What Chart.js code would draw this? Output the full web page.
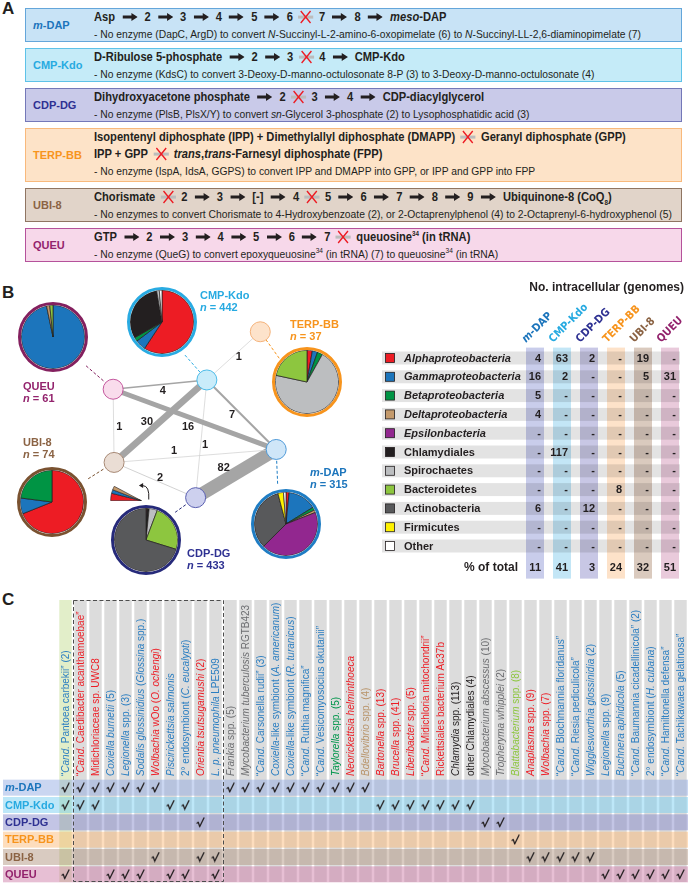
<!DOCTYPE html>
<html>
<head>
<meta charset="utf-8">
<title>Incomplete pathways in intracellular bacteria</title>
<script src="https://cdn.jsdelivr.net/npm/chart.js@4.4.1/dist/chart.umd.min.js"></script>
<style>
  html, body { margin: 0; padding: 0; background: #fff; }
  #fig { position: relative; width: 694px; height: 889px; overflow: hidden; color: #231f20;
         font-family: "Liberation Sans", Arial, sans-serif; }
  .letter { position: absolute; left: 2px; font: bold 17px/17px "Liberation Sans", Arial, sans-serif; }
  .box { position: absolute; left: 25px; width: 657px; box-sizing: border-box; border: 1.5px solid; }
  .box .name { position: absolute; left: 7px; top: 50%; transform: translateY(-50%);
               font: bold 11px/12px "Liberation Sans", Arial, sans-serif; white-space: nowrap; }
  .box .ln { position: absolute; left: 68px; white-space: nowrap; transform-origin: 0 50%; }
  .box .big { font: bold 12.5px/14px "Liberation Sans", Arial, sans-serif; }
  .box .small { font: 11px/14px "Liberation Sans", Arial, sans-serif; }
  .box sub, .box sup { font-size: 7px; line-height: 0; }
  svg.ar { vertical-align: 0px; margin: 0 8px; }
  svg.x { vertical-align: -3px; margin: 0 5px; }
  .chart { position: absolute; }
  .pie { position: absolute; width: 64px; height: 64px; border: 3px solid; border-radius: 50%; overflow: hidden; }
  .pie canvas { position: absolute; left: 0; top: 0; }
  .tag { position: absolute; font: bold 11px/12px "Liberation Sans", Arial, sans-serif; white-space: nowrap; }
</style>
</head>
<body>
<div id="fig">
  <div class="letter" style="top:0px">A</div>
  <div class="letter" style="top:284px">B</div>
  <canvas id="net" class="chart" style="left:0;top:280px" width="350" height="300"></canvas>
  <canvas id="tbl" class="chart" style="left:345px;top:280px" width="349" height="300"></canvas>
  <div class="letter" style="top:591px">C</div>
  <canvas id="mat" class="chart" style="left:0;top:580px" width="694" height="309"></canvas>
</div>
<script>
// ---------------- data ----------------
const PATHWAYS = ["m-DAP", "CMP-Kdo", "CDP-DG", "TERP-BB", "UBI-8", "QUEU"];
const GENOMES_N = [315, 442, 433, 37, 74, 61];

const TAXA = ["Alphaproteobacteria", "Gammaproteobacteria", "Betaproteobacteria", "Deltaproteobacteria",
  "Epsilonbacteria", "Chlamydiales", "Spirochaetes", "Bacteroidetes", "Actinobacteria", "Firmicutes", "Other"];

// genomes with the incomplete pathway, by taxon (pie slices)
const PIE_MDAP = [5, 46, 5, 4, 137, 0, 0, 0, 105, 9, 4];
const PIE_CMPKDO = [262, 24, 9, 0, 0, 135, 6, 0, 0, 0, 6];
const PIE_CDPDG = [2, 1, 1, 0, 0, 3, 18, 104, 304, 0, 0];
const PIE_TERPBB = [1, 1, 1, 0, 0, 0, 26, 8, 0, 0, 0];
const PIE_UBI8 = [51, 6, 17, 0, 0, 0, 0, 0, 0, 0, 0];
const PIE_QUEU = [0, 59, 0, 1, 0, 0, 0, 1, 0, 0, 0];
// the three smallest CDP-DG slices, blown up
const INSET_CDPDG = [2, 1, 1];

// intracellular genomes (table), null = "-"
const INTRA_MDAP = [4, 16, 5, 4, null, null, null, null, 6, null, null];
const INTRA_CMPKDO = [63, 2, null, null, null, 117, null, null, null, null, null];
const INTRA_CDPDG = [2, null, null, null, null, null, null, null, 12, null, null];
const INTRA_TERPBB = [null, null, null, null, null, null, null, 8, null, null, null];
const INTRA_UBI8 = [19, 5, null, null, null, null, null, null, null, null, null];
const INTRA_QUEU = [null, 31, null, null, null, null, null, null, null, null, null];
const PCT_TOTAL = [11, 41, 3, 24, 32, 51];

// genomes sharing two incomplete pathways
const EDGE_FROM = ["QUEU", "QUEU", "QUEU", "CMP-Kdo", "CMP-Kdo", "CMP-Kdo", "CMP-Kdo", "UBI-8", "UBI-8", "CDP-DG"];
const EDGE_TO = ["CMP-Kdo", "m-DAP", "UBI-8", "UBI-8", "TERP-BB", "m-DAP", "CDP-DG", "m-DAP", "CDP-DG", "m-DAP"];
const EDGE_SHARED = [4, 16, 1, 30, 1, 7, 1, 1, 2, 82];

// panel C organisms (*...* = italic) and their taxon index
const ORGANISMS = [
  "\u201c*Cand.* Pantoea carbekii\u201d (2)", "\u201c*Cand.* Caedibacter acanthamoebae\u201d", "Midichloriaceae sp. UWC8",
  "*Coxiella burnetii* (5)", "*Legionella* spp. (3)", "*Sodalis glossinidius* (*Glossina* spp.)",
  "*Wolbachia* wOo (*O. ochengi*)", "*Piscirickettsia salmonis*", "2\u00b0 endosymbiont (*C. eucalypti*)",
  "*Orientia tsutsugamushi* (2)", "*L. p. pneumophila* LPE509", "*Frankia* spp. (5)",
  "*Mycobacterium tuberculosis* RGTB423", "\u201c*Cand.* Carsonella rudii\u201d (3)",
  "*Coxiella*-like symbiont (*A. americanum*)", "*Coxiella*-like symbiont (*R. turanicus*)",
  "\u201c*Cand.* Ruthia magnifica\u201d", "\u201c*Cand.* Vesicomyosocius okutanii\u201d", "*Taylorella* spp. (5)",
  "*Neorickettsia helminthoeca*", "*Bdellovibrio* spp. (4)", "*Bartonella* spp. (13)", "*Brucella* spp. (41)",
  "*Liberibacter* spp. (5)", "\u201c*Cand.* Midichloria mitochondrii\u201d", "Rickettsiales bacterium Ac37b",
  "*Chlamydia* spp. (113)", "other Chlamydiales (4)", "*Mycobacterium abscessus* (10)", "*Tropheryma whipplei* (2)",
  "*Blattabacterium* spp. (8)", "*Anaplasma* spp. (9)", "*Wolbachia* spp. (7)",
  "\u201c*Cand.* Blochmannia floridanus\u201d", "\u201c*Cand.* Riesia pediculicola\u201d", "*Wigglesworthia glossinidia* (2)",
  "*Legionella* spp. (9)", "*Buchnera aphidicola* (5)", "\u201c*Cand.* Baumannia cicadellinicola\u201d (2)",
  "2\u00b0 endosymbiont (*H. cubana*)", "\u201c*Cand.* Hamiltonella defensa\u201d", "\u201c*Cand.* Tachikawaea gelatinosa\u201d"
];
const ORGANISM_TAXON = [1, 0, 0, 1, 1, 1, 0, 1, 1, 0, 1, 8, 8, 1, 1, 1, 1, 1, 2, 0, 3,
  0, 0, 0, 0, 0, 5, 5, 8, 8, 7, 0, 0, 1, 1, 1, 1, 1, 1, 1, 1, 1];

// columns (0-based) where each pathway is incomplete
const CHECK_MDAP = [0, 1, 2, 3, 4, 5, 6, 11, 12, 13, 14, 15, 16, 17, 18, 19, 20];
const CHECK_CMPKDO = [0, 1, 2, 7, 8, 21, 22, 23, 24, 25, 26, 27];
const CHECK_CDPDG = [9, 28, 29];
const CHECK_TERPBB = [30];
const CHECK_UBI8 = [6, 9, 10, 31, 32, 33, 34, 35];
const CHECK_QUEU = [0, 3, 4, 5, 7, 8, 10, 36, 37, 38, 39, 40, 41];

// panel A text
const STEPS = [
  ["Asp -> 2 -> 3 -> 4 -> 5 -> 6 X 7 -> 8 -> <i>meso</i>-DAP"],
  ["D-Ribulose 5-phosphate -> 2 -> 3 X 4 -> CMP-Kdo"],
  ["Dihydroxyacetone phosphate -> 2 X 3 -> 4 -> CDP-diacylglycerol"],
  ["Isopentenyl diphosphate (IPP) + Dimethylallyl diphosphate (DMAPP) X Geranyl diphosphate (GPP)",
   "IPP + GPP X <i>trans</i>,<i>trans</i>-Farnesyl diphosphate (FPP)"],
  ["Chorismate X 2 -> 3 -> [-] -> 4 X 5 -> 6 -> 7 -> 8 -> 9 -> Ubiquinone-8 (CoQ<sub>8</sub>)"],
  ["GTP -> 2 -> 3 -> 4 -> 5 -> 6 -> 7 X queuosine<sup>34</sup> (in tRNA)"]
];
const NOTES = [
  "- No enzyme (DapC, ArgD) to convert <i>N</i>-Succinyl-L-2-amino-6-oxopimelate (6) to <i>N</i>-Succinyl-LL-2,6-diaminopimelate (7)",
  "- No enzyme (KdsC) to convert 3-Deoxy-D-manno-octulosonate 8-P (3) to 3-Deoxy-D-manno-octulosonate (4)",
  "- No enzyme (PlsB, PlsX/Y) to convert <i>sn</i>-Glycerol 3-phosphate (2) to Lysophosphatidic acid (3)",
  "- No enzyme (IspA, IdsA, GGPS) to convert IPP and DMAPP into GPP, or IPP and GPP into FPP",
  "- No enzymes to convert Chorismate to 4-Hydroxybenzoate (2), or 2-Octaprenylphenol (4) to 2-Octaprenyl-6-hydroxyphenol (5)",
  "- No enzyme (QueG) to convert epoxyqueuosine<sup>34</sup> (in tRNA) (7) to queuosine<sup>34</sup> (in tRNA)"
];

// ---------------- styles / layout ----------------
const FONT = '"Liberation Sans", Arial, sans-serif';
const NARROW = '"Liberation Sans Narrow", "Arial Narrow", "DejaVu Sans Condensed", sans-serif';
const TAXA_COLORS = ["#ed1c24", "#1c75bc", "#009444", "#c49a6c", "#92278f", "#231f20", "#bcbec0", "#8dc63f", "#58595b", "#fff200", "#ffffff"];
const TAXA_TEXT = ["#ed1c24", "#2b7ec1", "#00964b", "#b8946a", "#92278f", "#231f20", "#939598", "#8dc63f", "#6d6e71", "#d4c400", "#231f20"];
const PATH_COLORS = ["#1c75bc", "#27aae1", "#2e3192", "#f7941d", "#8b6344", "#93236d"];
const RING_COLORS = ["#1f7dc4", "#29abe2", "#262a7a", "#f7941d", "#7a5230", "#84205f"];
const BOX_FILL = ["#c8e3f6", "#c5ebf8", "#c9cae9", "#fde3c8", "#e1d4c9", "#f7d8ea"];
const BOX_EDGE = ["#64a6da", "#5ec2e8", "#7478b8", "#f8b97c", "#8f7562", "#b5529b"];
const BOX_TOP = [8, 48, 88, 128, 188, 228];
const BOX_H = [34, 34, 34, 54, 34, 34];
const NODE_FILL = ["#cfe6f8", "#c9ecfa", "#cdd0ee", "#fde3cb", "#eaddd4", "#f9dcec"];
const NODE_LINE = ["#4f9ad8", "#4dbbe8", "#5a5fb0", "#f4b27a", "#a88a76", "#c4589e"];
const TABLE_TINT = ["#c9cdeb", "#c3e6f6", "#c8c7e5", "#fde2c9", "#dacabe", "#e9cadb"];
const MATRIX_TINT = ["#8aa3df", "#6ccaf0", "#7b7ec6", "#fbb46d", "#aa8c76", "#c9709f"];

// page-pixel layout of panel B
const NODE_POS = [[283, 451], [209, 376], [197, 503], [266, 324], [110, 465], [109, 386]];
const PIE_POS = [[286, 524], [162, 322], [146, 540], [307, 382], [52, 502], [53, 337]];
const TAG_POS = [[310, 472], [200, 295], [187, 553], [290, 324], [23, 442], [23, 386]];
const EDGE_LABEL_OFF = [[3, 7], [-7, 8.5], [6, 1.5], [-14.5, 0.5], [5.5, 1], [-10, 0.5], [4, 6.5], [-22.5, -5], [5.5, -2], [-13, -6]];
const PCT_ROW = 11.15;

const STATIC = {
  responsive: false, animation: false, events: [], devicePixelRatio: 1,
  plugins: { legend: { display: false }, tooltip: { enabled: false } }
};

const fig = document.getElementById("fig");
const nameHtml = p => p === "m-DAP" ? "<i>m</i>-DAP" : p;

// ---------------- panel A ----------------
const ARROW = '<svg class="ar" width="17" height="8" viewBox="0 0 17 8"><path d="M0 2.6H10V0L17 4 10 8V5.4H0Z" fill="#231f20"/></svg>';
const CROSS = '<svg class="x" width="19" height="14" viewBox="0 0 19 14"><rect x="1" y="5.6" width="17" height="3" fill="#bcbcbc"/><path d="M4 1L15 13M15 1L4 13" stroke="#ed1c24" stroke-width="1.6"/></svg>';

PATHWAYS.forEach((p, i) => {
  const box = document.createElement("div");
  box.className = "box";
  box.id = "box" + i;
  box.style.top = BOX_TOP[i] + "px";
  box.style.height = BOX_H[i] + "px";
  box.style.background = BOX_FILL[i];
  box.style.borderColor = BOX_EDGE[i];
  let html = `<div class="name" style="color:${PATH_COLORS[i]}">${nameHtml(p)}</div>`;
  const lines = STEPS[i].map(s => s.split(" -> ").join(ARROW).split(" X ").join(CROSS));
  lines.forEach((s, k) => { html += `<div class="ln big" style="top:${0.5 + 17 * k}px">${s}</div>`; });
  html += `<div class="ln small" style="top:${0.5 + 17 * lines.length}px">${NOTES[i]}</div>`;
  box.innerHTML = html;
  fig.appendChild(box);
});
// squeeze the lines to the condensed look of the original
const kBig = 532 / document.querySelector("#box3 .big").offsetWidth;
const kSmall = 578 / document.querySelector("#box4 .small").offsetWidth;
document.querySelectorAll(".box .big").forEach(el => { el.style.transform = `scaleX(${kBig})`; });
document.querySelectorAll(".box .small").forEach(el => { el.style.transform = `scaleX(${kSmall})`; });

// ---------------- panel B: network ----------------
const idx = p => PATHWAYS.indexOf(p);
const edgeWidth = n => n >= 16 ? 3.06 + 0.121 * n : 0.5 + 0.22 * n;

const networkDecor = {
  id: "networkDecor",
  beforeDatasetsDraw(chart) {
    const { ctx, scales: { x, y } } = chart;
    ctx.save();
    ctx.setLineDash([3, 2]);
    ctx.lineWidth = 1;
    PATHWAYS.forEach((p, i) => {
      const [nx, ny] = NODE_POS[i], [px, py] = PIE_POS[i];
      const a = Math.atan2(ny - py, nx - px);
      ctx.strokeStyle = RING_COLORS[i];
      ctx.beginPath();
      ctx.moveTo(x.getPixelForValue(px + Math.cos(a) * 36), y.getPixelForValue(py + Math.sin(a) * 36));
      ctx.lineTo(x.getPixelForValue(nx - Math.cos(a) * 11), y.getPixelForValue(ny - Math.sin(a) * 11));
      ctx.stroke();
    });
    ctx.restore();
  },
  afterDatasetsDraw(chart) {
    const { ctx, scales: { x, y } } = chart;
    ctx.save();
    ctx.font = "bold 11px " + FONT;
    ctx.fillStyle = "#231f20";
    ctx.textAlign = "center";
    ctx.textBaseline = "middle";
    EDGE_SHARED.forEach((n, k) => {
      const a = NODE_POS[idx(EDGE_FROM[k])], b = NODE_POS[idx(EDGE_TO[k])];
      const [dx, dy] = EDGE_LABEL_OFF[k];
      ctx.fillText(String(n), x.getPixelForValue((a[0] + b[0]) / 2 + dx), y.getPixelForValue((a[1] + b[1]) / 2 + dy));
    });
    // curved pointer from the CDP-DG pie to its blown-up slices
    ctx.strokeStyle = "#231f20";
    ctx.lineWidth = 1;
    ctx.beginPath();
    ctx.moveTo(x.getPixelForValue(147), y.getPixelForValue(505));
    ctx.quadraticCurveTo(x.getPixelForValue(148), y.getPixelForValue(490), x.getPixelForValue(140.5), y.getPixelForValue(490));
    ctx.stroke();
    ctx.beginPath();
    ctx.moveTo(x.getPixelForValue(136.5), y.getPixelForValue(490));
    ctx.lineTo(x.getPixelForValue(141), y.getPixelForValue(487.3));
    ctx.lineTo(x.getPixelForValue(141), y.getPixelForValue(492.7));
    ctx.closePath();
    ctx.fillStyle = "#231f20";
    ctx.fill();
    ctx.restore();
  }
};

const edgeSets = EDGE_SHARED.map((n, k) => {
  const a = NODE_POS[idx(EDGE_FROM[k])], b = NODE_POS[idx(EDGE_TO[k])];
  return {
    data: [{ x: a[0], y: a[1] }, { x: b[0], y: b[1] }],
    showLine: true, borderWidth: edgeWidth(n), borderColor: n > 2 ? "#a5a5a5" : "#cfcfcf",
    borderCapStyle: "butt", pointRadius: 0, order: 2
  };
});

new Chart(document.getElementById("net"), {
  type: "scatter",
  data: {
    datasets: [...edgeSets, {
      data: NODE_POS.map(([x, y]) => ({ x, y })),
      pointRadius: 10, pointBackgroundColor: NODE_FILL, pointBorderColor: NODE_LINE, pointBorderWidth: 1, order: 0
    }]
  },
  options: {
    ...STATIC,
    layout: { padding: 0 },
    scales: {
      x: { type: "linear", min: 0, max: 350, display: false },
      y: { type: "linear", min: 280, max: 580, reverse: true, display: false }
    }
  },
  plugins: [networkDecor]
});

// pies
const PIES = [PIE_MDAP, PIE_CMPKDO, PIE_CDPDG, PIE_TERPBB, PIE_UBI8, PIE_QUEU];
PATHWAYS.forEach((p, i) => {
  const [cx, cy] = PIE_POS[i];
  const wrap = document.createElement("div");
  wrap.className = "pie";
  wrap.style.left = (cx - 35) + "px";
  wrap.style.top = (cy - 35) + "px";
  wrap.style.borderColor = RING_COLORS[i];
  const cv = document.createElement("canvas");
  cv.width = 64; cv.height = 64;
  wrap.appendChild(cv);
  fig.appendChild(wrap);
  const vals = PIES[i];
  const keep = vals.map((v, k) => k).filter(k => vals[k] > 0);
  new Chart(cv, {
    type: "pie",
    data: {
      labels: keep.map(k => TAXA[k]),
      datasets: [{
        data: keep.map(k => vals[k]), backgroundColor: keep.map(k => TAXA_COLORS[k]),
        borderColor: "#231f20", borderWidth: 0.7, hoverOffset: 0
      }]
    },
    options: { ...STATIC, radius: 31.7 }
  });

  const tag = document.createElement("div");
  tag.className = "tag";
  tag.style.left = TAG_POS[i][0] + "px";
  tag.style.top = (TAG_POS[i][1] - 6) + "px";
  tag.style.color = PATH_COLORS[i];
  tag.innerHTML = `${nameHtml(p)}<br><i>n</i> = ${GENOMES_N[i]}`;
  fig.appendChild(tag);
});

// blown-up small slices of CDP-DG
const inset = document.createElement("canvas");
inset.className = "chart";
inset.width = 32; inset.height = 15;
inset.style.left = "110px"; inset.style.top = "486px";
fig.appendChild(inset);
new Chart(inset, {
  type: "pie",
  data: {
    labels: ["Alphaproteobacteria", "Gammaproteobacteria", "Deltaproteobacteria"],
    datasets: [{ data: INSET_CDPDG, backgroundColor: ["#ed1c24", "#1c75bc", "#c49a6c"], borderColor: "#231f20", borderWidth: 0.6, hoverOffset: 0 }]
  },
  options: { ...STATIC, rotation: 270, circumference: 28 }
});

// ---------------- panel B: table ----------------
const INTRA = [INTRA_MDAP, INTRA_CMPKDO, INTRA_CDPDG, INTRA_TERPBB, INTRA_UBI8, INTRA_QUEU];

function drawSegments(ctx, segs, x0, y0, size, family, bold) {
  let pos = x0;
  segs.forEach(([txt, it]) => {
    ctx.font = (it ? "italic " : "") + (bold ? "bold " : "") + size + "px " + family;
    ctx.fillText(txt, pos, y0);
    pos += ctx.measureText(txt).width;
  });
}
const nameSegs = p => p === "m-DAP" ? [["m", true], ["-DAP", false]] : [[p, false]];

const tableDecor = {
  id: "tableDecor",
  afterDraw(chart) {
    const { ctx, chartArea: area, scales: { x, y } } = chart;
    const bandBottom = y.getPixelForValue(PCT_ROW) + 11;
    ctx.save();
    PATHWAYS.forEach((p, c) => {
      ctx.fillStyle = TABLE_TINT[c];
      ctx.fillRect(x.getPixelForValue(c) - 9, area.top - 1, 18, bandBottom - area.top + 1);
    });
    ctx.textBaseline = "middle";
    TAXA.forEach((t, r) => {
      const cy = y.getPixelForValue(r);
      ctx.fillStyle = "rgba(0,0,0,0.11)";
      ctx.fillRect(37, cy - 6.5, 298, 13);
      ctx.fillStyle = TAXA_COLORS[r];
      ctx.fillRect(40.5, cy - 4.5, 9, 9);
      ctx.strokeStyle = "#231f20";
      ctx.lineWidth = 0.8;
      ctx.strokeRect(40.5, cy - 4.5, 9, 9);
      ctx.fillStyle = "#231f20";
      ctx.textAlign = "left";
      ctx.font = (r < 5 ? "italic " : "") + "bold 11px " + FONT;
      ctx.fillText(t, 59, cy + 0.5);
      ctx.textAlign = "right";
      ctx.font = "bold 11px " + FONT;
      INTRA.forEach((col, c) => {
        ctx.fillText(col[r] == null ? "-" : String(col[r]), x.getPixelForValue(c) + 6, cy + 0.5);
      });
    });
    const py = y.getPixelForValue(PCT_ROW);
    ctx.font = "bold 12px " + FONT;
    ctx.fillText("% of total", 173, py);
    ctx.font = "bold 11px " + FONT;
    PCT_TOTAL.forEach((v, c) => ctx.fillText(String(v), x.getPixelForValue(c) + 6, py));
    ctx.font = "bold 12px " + FONT;
    ctx.fillText("No. intracellular (genomes)", 339, 8);
    ctx.textAlign = "left";
    ctx.textBaseline = "alphabetic";
    PATHWAYS.forEach((p, c) => {
      ctx.save();
      ctx.translate(x.getPixelForValue(c) - 9, 63);
      ctx.rotate(-Math.PI / 4);
      ctx.fillStyle = PATH_COLORS[c];
      drawSegments(ctx, nameSegs(p), 0, 0, 11, NARROW, true);
      ctx.restore();
    });
    ctx.restore();
  }
};

new Chart(document.getElementById("tbl"), {
  type: "scatter",
  data: { datasets: [] },
  options: {
    ...STATIC,
    layout: { padding: { left: 176.5, right: 10.5, top: 68.6, bottom: 24.6 } },
    scales: {
      x: { type: "linear", min: -0.5, max: 5.5, display: false },
      y: { type: "linear", min: -0.5, max: 10.5, reverse: true, display: false }
    }
  },
  plugins: [tableDecor]
});

// ---------------- panel C: matrix ----------------
const CHECKS = [CHECK_MDAP, CHECK_CMPKDO, CHECK_CDPDG, CHECK_TERPBB, CHECK_UBI8, CHECK_QUEU];
const tick = document.createElement("canvas");
tick.width = 9; tick.height = 11;
(() => {
  const t = tick.getContext("2d");
  t.strokeStyle = "#231f20"; t.lineWidth = 1.3; t.lineJoin = "round"; t.lineCap = "round";
  t.beginPath(); t.moveTo(1, 6.2); t.lineTo(2.3, 5.4); t.lineTo(3.7, 9.8); t.lineTo(8, 1); t.stroke();
})();

const matrixDecor = {
  id: "matrixDecor",
  beforeDatasetsDraw(chart) {
    const { ctx, chartArea: area, scales: { x, y } } = chart;
    const bandTop = 20, bandBottom = area.bottom - 1;
    const step = x.getPixelForValue(1) - x.getPixelForValue(0);
    const colW = step - 2.6;
    ctx.save();
    ORGANISMS.forEach((o, i) => {
      ctx.fillStyle = i === 0 ? "#e2eec9" : "#dcdcdc";
      ctx.fillRect(x.getPixelForValue(i) - colW / 2, bandTop, colW, bandBottom - bandTop);
    });
    ctx.textBaseline = "middle";
    PATHWAYS.forEach((p, r) => {
      const cy = y.getPixelForValue(r);
      ctx.globalAlpha = 0.45;
      ctx.fillStyle = MATRIX_TINT[r];
      ctx.fillRect(3, cy - 8, area.right - 3, 16);
      ctx.globalAlpha = 1;
      ctx.fillStyle = PATH_COLORS[r];
      ctx.textAlign = "left";
      drawSegments(ctx, nameSegs(p), 5, cy + 0.5, 11, FONT, true);
    });
    ORGANISMS.forEach((o, i) => {
      ctx.save();
      ctx.translate(x.getPixelForValue(i) + 0.5, area.top - 3);
      ctx.rotate(-Math.PI / 2);
      ctx.fillStyle = TAXA_TEXT[ORGANISM_TAXON[i]];
      drawSegments(ctx, o.split("*").map((s, k) => [s, k % 2 === 1]), 0, 0, 10, FONT, false);
      ctx.restore();
    });
    ctx.strokeStyle = "#4d4d4d";
    ctx.lineWidth = 1;
    ctx.setLineDash([4, 2.5]);
    const l = Math.round(x.getPixelForValue(0.5)) + 0.5, r = Math.round(x.getPixelForValue(10.5)) + 0.5;
    ctx.strokeRect(l, bandTop + 0.5, r - l, bandBottom - bandTop - 1);
    ctx.restore();
  }
};

new Chart(document.getElementById("mat"), {
  type: "scatter",
  data: {
    datasets: CHECKS.map((cols, r) => ({
      label: PATHWAYS[r],
      data: cols.map(c => ({ x: c, y: r })),
      pointStyle: tick, pointRadius: 5
    }))
  },
  options: {
    ...STATIC,
    layout: { padding: { left: 58, right: 0, top: 199, bottom: 0 } },
    scales: {
      x: { type: "linear", min: -0.5, max: 41.5, display: false },
      y: { type: "linear", min: -0.5, max: 5.5, reverse: true, display: false }
    }
  },
  plugins: [matrixDecor]
});
</script>
</body>
</html>
